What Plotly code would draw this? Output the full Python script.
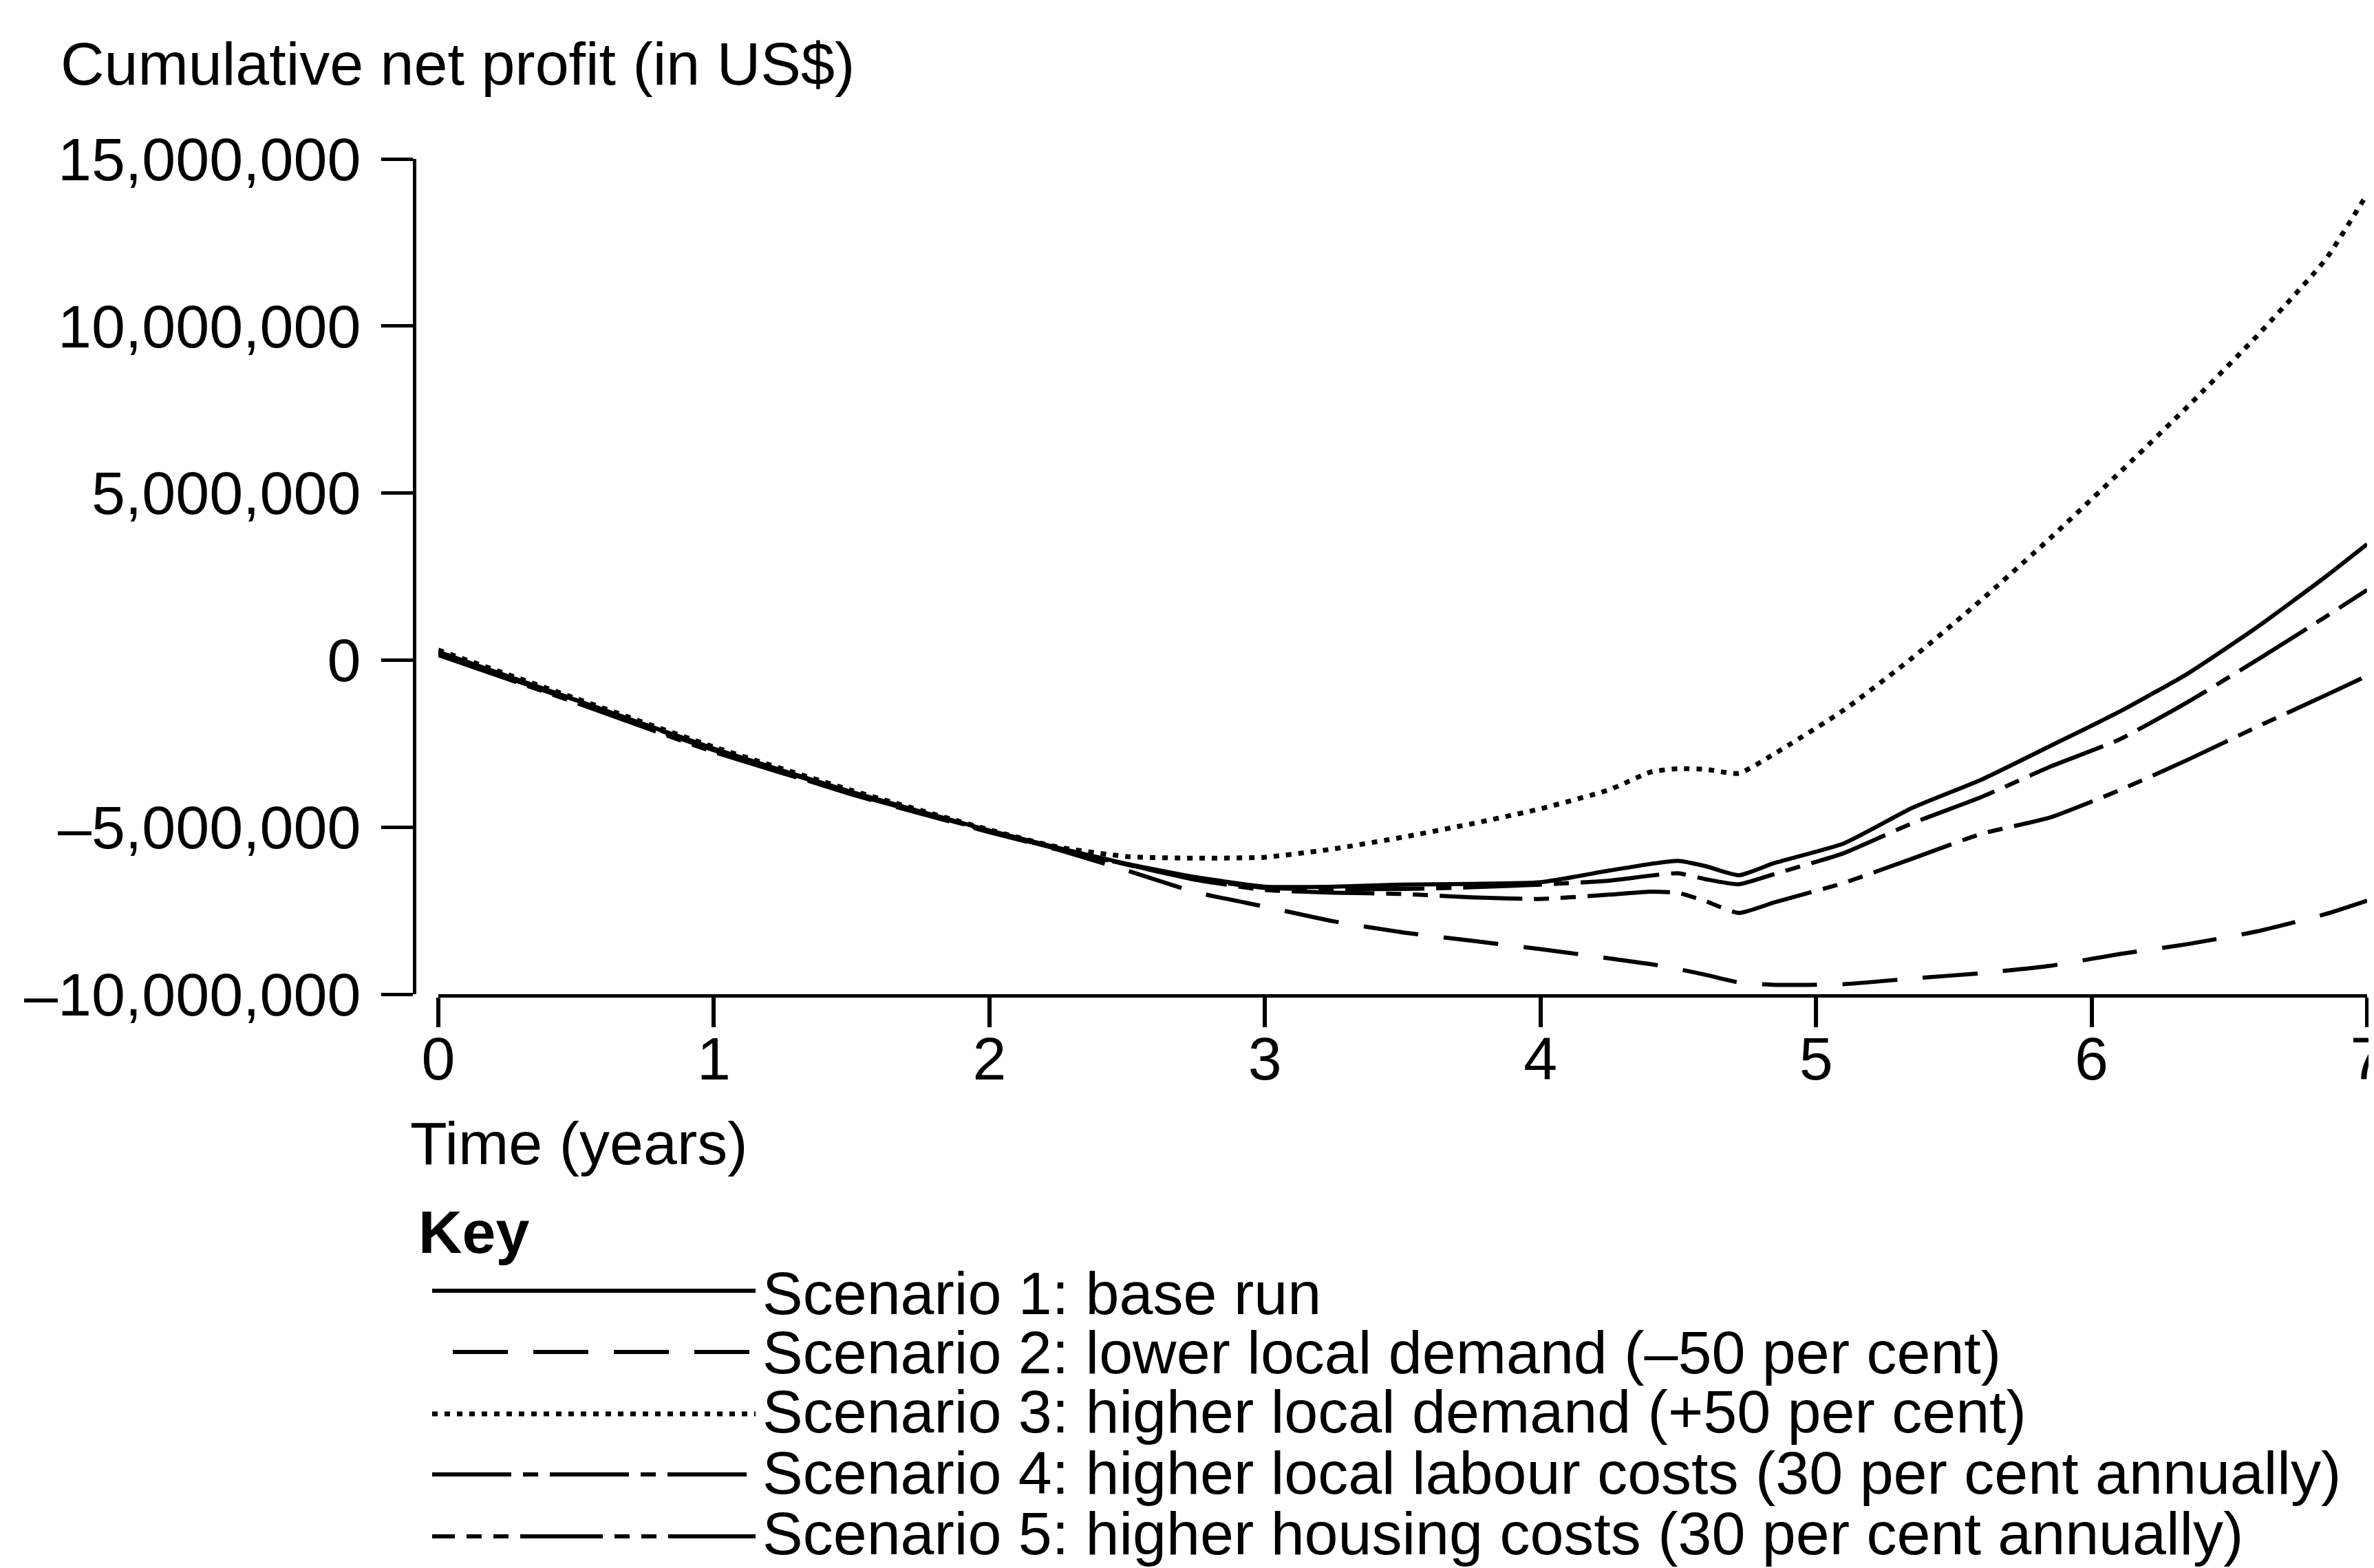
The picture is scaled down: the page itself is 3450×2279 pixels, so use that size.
import plotly.graph_objects as go

# ---------------- data (values in millions of US$) ----------------
years = [0, 0.5, 1, 1.5, 2, 2.25, 2.5, 2.75, 3, 3.25, 3.5, 3.75, 4, 4.25, 4.4,
         4.5, 4.6, 4.72, 4.85, 5.1, 5.35, 5.6, 5.85, 6.1, 6.35, 6.6, 6.85, 7.0]

s1_base_run = [0.25, -1.2, -2.65, -3.95, -5.1, -5.62, -6.1, -6.5, -6.78, -6.78, -6.72, -6.7,
               -6.65, -6.3, -6.1, -6.01, -6.17, -6.44, -6.07, -5.49, -4.42, -3.58, -2.57,
               -1.55, -0.4, 0.98, 2.5, 3.47]
s2_lower_demand = [0.2, -1.25, -2.7, -4.02, -5.15, -5.68, -6.3, -6.95, -7.38, -7.82, -8.15, -8.4,
                   -8.65, -8.93, -9.1, -9.25, -9.42, -9.65, -9.72, -9.7, -9.53, -9.37, -9.15,
                   -8.8, -8.5, -8.12, -7.6, -7.2]
s3_higher_demand = [0.3, -1.15, -2.6, -3.9, -5.08, -5.6, -5.88, -5.93, -5.9, -5.65, -5.3, -4.9,
                    -4.45, -3.88, -3.35, -3.25, -3.27, -3.39, -2.8, -1.5, 0.07, 1.8, 3.65,
                    5.6, 7.6, 9.7, 12.0, 13.95]
s4_labour_costs = [0.2, -1.2, -2.68, -3.97, -5.12, -5.64, -6.12, -6.55, -6.82, -6.85, -6.85, -6.8,
                   -6.72, -6.6, -6.45, -6.38, -6.56, -6.71, -6.4, -5.78, -4.88, -4.1, -3.19,
                   -2.38, -1.25, 0.0, 1.3, 2.1]
s5_housing_costs = [0.15, -1.28, -2.75, -4.0, -5.12, -5.66, -6.12, -6.58, -6.88, -6.96, -7.0, -7.1,
                    -7.15, -7.02, -6.93, -6.97, -7.22, -7.57, -7.25, -6.67, -5.94, -5.2, -4.71,
                    -3.9, -2.98, -2.0, -1.05, -0.47]

scenario_names = [
    "Scenario 1: base run",
    "Scenario 2: lower local demand (\u201350 per cent)",
    "Scenario 3: higher local demand (+50 per cent)",
    "Scenario 4: higher local labour costs (30 per cent annually)",
    "Scenario 5: higher housing costs (30 per cent annually)",
]

y_tick_values = [15e6, 10e6, 5e6, 0, -5e6, -10e6]
y_tick_labels = ["15,000,000", "10,000,000", "5,000,000", "0", "\u20135,000,000", "\u201310,000,000"]
x_tick_values = [0, 1, 2, 3, 4, 5, 6, 7]
x_tick_labels = ["0", "1", "2", "3", "4", "5", "6", "7"]

# ---------------- styling ----------------
W, H = 3450, 2279
FONT = "Liberation Sans, Arial, Helvetica, sans-serif"
FS = 88
LW = 6
dashes = ["solid", "80px,37px", "8px,10px", "115px,17px,22px,17px",
          "120px,17px,22px,17px,22px,17px"]
widths = [LW, LW, 7, LW, LW]
legend_dashes = ["solid", "80px,37px", "8px,10px", "115px,17px,22px,17px",
                 "33px,17px,22px,17px,22px,17px,120px,17px,22px,17px,22px,17px,130px"]

def px(x):
    return x / W

def py(y):
    return 1 - y / H

series = [s1_base_run, s2_lower_demand, s3_higher_demand, s4_labour_costs, s5_housing_costs]

fig = go.Figure()
for name, vals, d, w in zip(scenario_names, series, dashes, widths):
    fig.add_trace(go.Scatter(
        x=years, y=[v * 1e6 for v in vals], mode="lines", name=name,
        line=dict(color="black", width=w, dash=d, shape="spline", smoothing=0.5),
        showlegend=False, hoverinfo="skip",
    ))

fig.update_layout(
    template="none",
    width=W, height=H,
    margin=dict(l=0, r=0, t=0, b=0, autoexpand=False),
    paper_bgcolor="white", plot_bgcolor="white",
    font=dict(family=FONT, size=FS, color="black"),
    xaxis=dict(
        domain=[px(629), px(3432)], range=[0, 7], automargin=False,
        tickvals=x_tick_values, ticktext=x_tick_labels,
        ticks="outside", ticklen=43, tickwidth=6, tickcolor="black",
        showline=True, linewidth=5, linecolor="black",
        showgrid=False, zeroline=False, anchor="y",
        ticklabelstandoff=-30, ticklabeloverflow="allow",
        tickfont=dict(family=FONT, size=FS, color="black"),
    ),
    yaxis=dict(
        domain=[py(1437), py(223)], range=[-10e6, 15e6], automargin=False,
        tickvals=y_tick_values, ticktext=y_tick_labels,
        ticks="outside", ticklen=46, tickwidth=5, tickcolor="black",
        showline=True, linewidth=5, linecolor="black",
        showgrid=False, zeroline=False, anchor="free", position=px(594),
        ticklabelstandoff=12, ticklabeloverflow="allow",
        tickfont=dict(family=FONT, size=FS, color="black"),
    ),
)

def text(x, y, s, bold=False):
    fig.add_annotation(
        x=px(x), y=py(y), xref="paper", yref="paper", xanchor="left", yanchor="middle",
        text=("<b>%s</b>" % s) if bold else s, showarrow=False,
        font=dict(family=FONT, size=FS, color="black"),
    )

text(78, 84, "Cumulative net profit (in US$)")
text(586, 1653, "Time (years)")
text(598, 1782, "Key", bold=True)

row_text_y = [1872, 1957, 2043, 2132, 2220]
row_line_y = [1868, 1957, 2047, 2135, 2225]
row_line_x0 = [620, 650, 620, 620, 620]
for name, ty, ly, x0, d in zip(scenario_names, row_text_y, row_line_y, row_line_x0, legend_dashes):
    fig.add_shape(type="line", xref="paper", yref="paper",
                  x0=px(x0), x1=px(1090), y0=py(ly), y1=py(ly),
                  line=dict(color="black", width=LW if d != "8px,10px" else 7, dash=d))
    text(1098, ty, name)

fig.write_html("out.html")
